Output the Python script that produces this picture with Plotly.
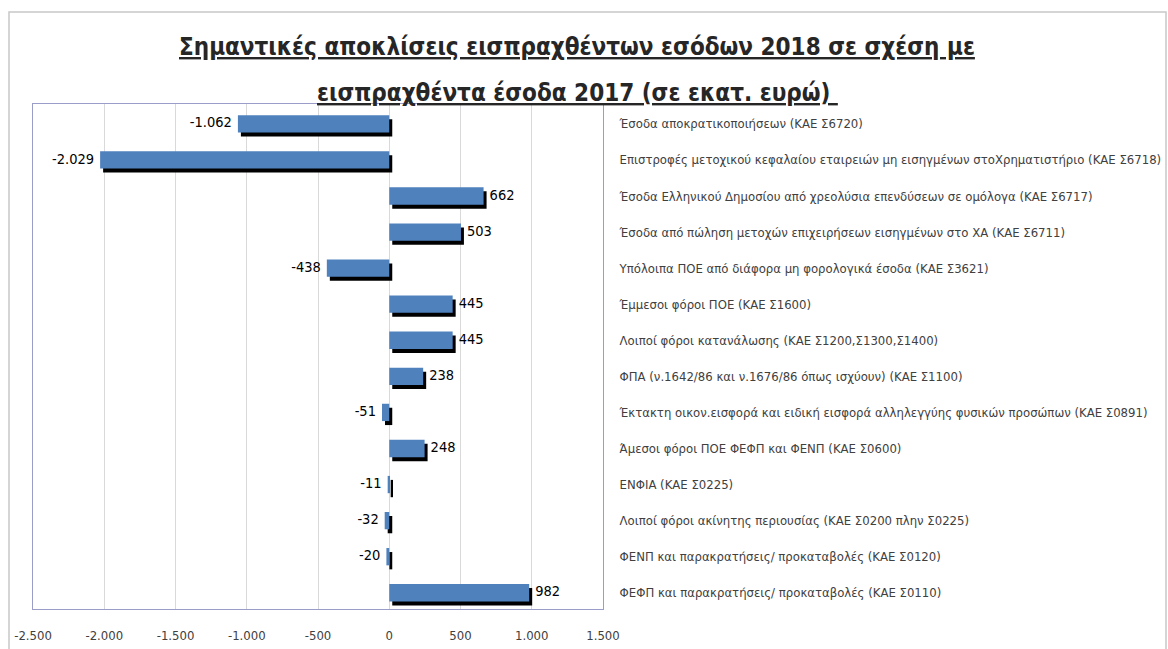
import plotly.graph_objects as go

categories = [
    "Έσοδα αποκρατικοποιήσεων (ΚΑΕ Σ6720)",
    "Επιστροφές μετοχικού κεφαλαίου εταιρειών μη εισηγμένων στοΧρηματιστήριο (ΚΑΕ Σ6718)",
    "Έσοδα Ελληνικού Δημοσίου από χρεολύσια επενδύσεων σε ομόλογα (ΚΑΕ Σ6717)",
    "Έσοδα από πώληση μετοχών επιχειρήσεων εισηγμένων στο ΧΑ (ΚΑΕ Σ6711)",
    "Υπόλοιπα ΠΟΕ από διάφορα μη φορολογικά έσοδα (ΚΑΕ Σ3621)",
    "Έμμεσοι φόροι ΠΟΕ (ΚΑΕ Σ1600)",
    "Λοιποί φόροι κατανάλωσης (ΚΑΕ Σ1200,Σ1300,Σ1400)",
    "ΦΠΑ (ν.1642/86 και ν.1676/86 όπως ισχύουν) (ΚΑΕ Σ1100)",
    "Έκτακτη οικον.εισφορά και ειδική εισφορά αλληλεγγύης φυσικών προσώπων (ΚΑΕ Σ0891)",
    "Άμεσοι φόροι ΠΟΕ ΦΕΦΠ και ΦΕΝΠ (ΚΑΕ Σ0600)",
    "ΕΝΦΙΑ (ΚΑΕ Σ0225)",
    "Λοιποί φόροι ακίνητης περιουσίας (ΚΑΕ Σ0200 πλην Σ0225)",
    "ΦΕΝΠ και παρακρατήσεις/ προκαταβολές (ΚΑΕ Σ0120)",
    "ΦΕΦΠ και παρακρατήσεις/ προκαταβολές (ΚΑΕ Σ0110)",
]
values = [-1062, -2029, 662, 503, -438, 445, 445, 238, -51, 248, -11, -32, -20, 982]

x_tickvals = [-2500, -2000, -1500, -1000, -500, 0, 500, 1000, 1500]
x_ticktext = ["-2.500", "-2.000", "-1.500", "-1.000", "-500", "0", "500", "1.000", "1.500"]

title_line1 = "Σημαντικές αποκλίσεις εισπραχθέντων εσόδων 2018 σε σχέση με"
title_line2 = "εισπραχθέντα έσοδα 2017 (σε εκατ. ευρώ) "


def fmt(v):
    return f"{v:,}".replace(",", ".")


labels = [fmt(v) for v in values]

W, H = 1168, 649
ML, MR, MT, MB = 33, 1168 - 603, 104, 649 - 609
plot_w = W - ML - MR
plot_h = H - MT - MB
xr = [x_tickvals[0], x_tickvals[-1]]
units_per_px = (xr[1] - xr[0]) / plot_w
shadow_dx = 3 * units_per_px
bar_w = 0.48
n = len(categories)
yr = [n - 1 + 0.45, -0.55]
shadow_dy = 4 / (plot_h / (yr[0] - yr[1]))

FONT = "DejaVu Sans Condensed, sans-serif"

fig = go.Figure()
fig.add_trace(go.Bar(
    y=categories, x=values, base=shadow_dx, orientation="h",
    width=bar_w, offset=-bar_w / 2 + shadow_dy,
    marker=dict(color="#000000", line=dict(width=0)),
    hoverinfo="skip", showlegend=False,
))
fig.add_trace(go.Bar(
    y=categories, x=values, orientation="h",
    width=bar_w, offset=-bar_w / 2,
    marker=dict(color="#4F81BD", line=dict(width=0)),
    showlegend=False,
))
fig.add_trace(go.Scatter(
    y=categories, x=values, mode="markers+text", text=labels,
    textposition=["middle left" if v < 0 else "middle right" for v in values],
    marker=dict(size=8, color="rgba(0,0,0,0)"),
    textfont=dict(family=FONT, size=14.5, color="#000000"),
    hoverinfo="skip", showlegend=False, cliponaxis=False,
))

fig.update_layout(
    width=W, height=H,
    margin=dict(l=ML, r=MR, t=MT, b=MB, pad=0, autoexpand=False),
    paper_bgcolor="white", plot_bgcolor="white",
    barmode="overlay",
    font=dict(family=FONT),
    xaxis=dict(
        range=xr, tickvals=x_tickvals, ticktext=x_ticktext, automargin=False,
        showgrid=True, gridcolor="#D9D9D9", gridwidth=1,
        zeroline=False, showline=True, linecolor="#9C9CC8", linewidth=1, mirror=True,
        ticks="", ticklabelstandoff=14,
        tickfont=dict(family=FONT, size=13, color="#404040"),
    ),
    yaxis=dict(
        range=yr, side="right", type="category", automargin=False,
        showgrid=False, zeroline=False,
        showline=True, linecolor="#9C9CC8", linewidth=1, mirror=True,
        ticks="", ticklabelstandoff=13,
        tickfont=dict(family=FONT, size=13, color="#404040"),
    ),
    shapes=[dict(
        type="rect", xref="paper", yref="paper",
        x0=(9 - ML) / plot_w, x1=(1166 - ML) / plot_w,
        y0=-(H + 10 - (H - MB)) / plot_h, y1=(H - MB - 12) / plot_h,
        line=dict(color="#C8C8C8", width=1.5), fillcolor="rgba(0,0,0,0)", layer="below",
    )],
    annotations=[
        dict(text=f"<b><u>{title_line1}</u></b>", xref="paper", yref="paper",
             x=(577 - ML) / plot_w, y=(H - MB - 47) / plot_h, xanchor="center", yanchor="middle",
             showarrow=False, font=dict(family=FONT, size=24, color="#262626")),
        dict(text=f"<b><u>{title_line2}</u></b>", xref="paper", yref="paper",
             x=(577 - ML) / plot_w, y=(H - MB - 93) / plot_h, xanchor="center", yanchor="middle",
             showarrow=False, font=dict(family=FONT, size=24, color="#262626")),
    ],
)

fig.write_html(
    "out.html",
    config={"displayModeBar": False},
    post_script="document.body.style.margin='0';document.body.style.overflow='hidden';",
)
